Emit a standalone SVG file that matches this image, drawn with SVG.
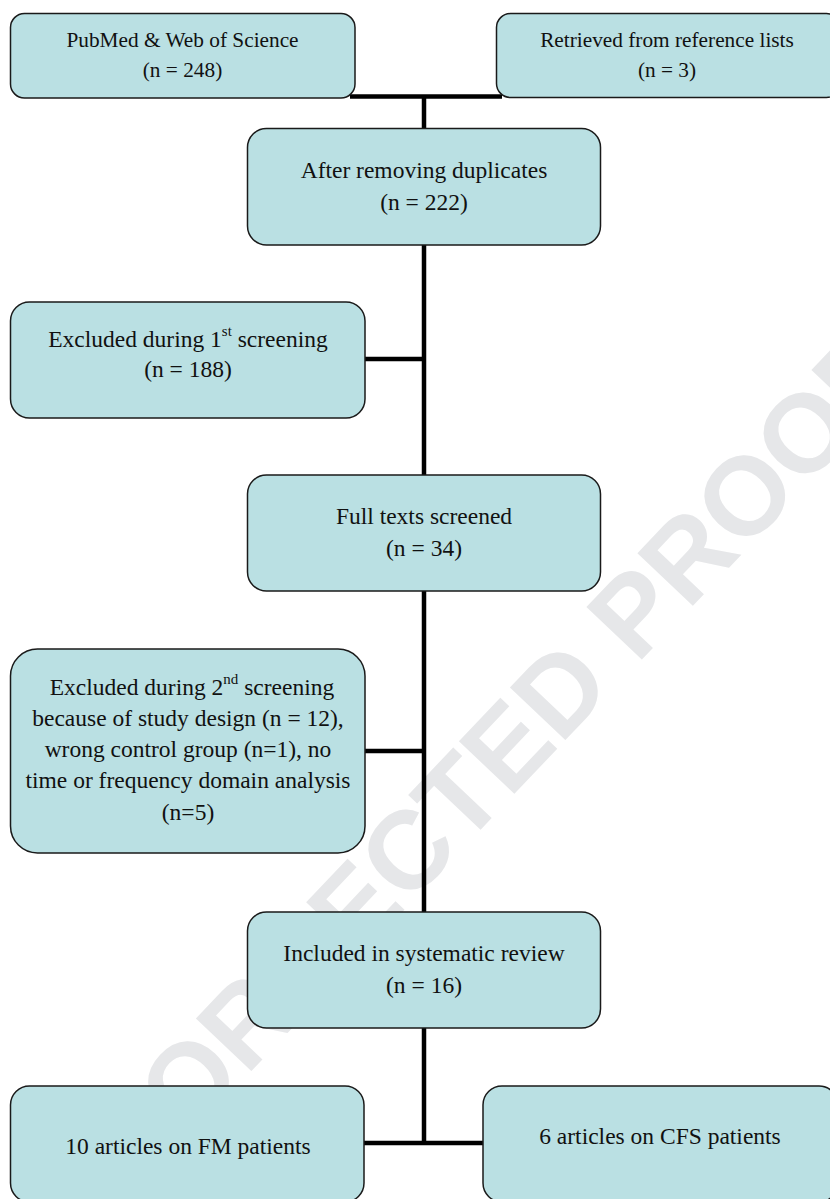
<svg xmlns="http://www.w3.org/2000/svg" width="830" height="1199" viewBox="0 0 830 1199">
  <style>
    .box { fill: #bae0e3; stroke: #1a1a1a; stroke-width: 1.5; }
    .t { font-family: "Liberation Serif", "Times New Roman", serif; font-size: 23.5px; fill: #111; text-anchor: middle; }
    .ts { font-size: 21.3px; }
    .sup { font-size: 15px; }
    .conn { stroke: #000; stroke-width: 4.5; fill: none; }
    .wm { font-family: "Liberation Sans", Arial, sans-serif; font-weight: bold; font-size: 111px; fill: #e6e7e9; text-anchor: middle; }
  </style>
  <rect x="0" y="0" width="830" height="1199" fill="#ffffff"/>
  <text class="wm" transform="translate(520,788) rotate(-46.5)" x="0" y="0">CORRECTED PROOF</text>

  <g id="connectors">
    <line class="conn" x1="350" y1="96.5" x2="502" y2="96.5"/>
    <line class="conn" x1="424" y1="96" x2="424" y2="129"/>
    <line class="conn" x1="424" y1="245" x2="424" y2="476"/>
    <line class="conn" x1="364" y1="359" x2="426" y2="359"/>
    <line class="conn" x1="424" y1="591" x2="424" y2="913"/>
    <line class="conn" x1="364" y1="751" x2="426" y2="751"/>
    <line class="conn" x1="424" y1="1028" x2="424" y2="1143"/>
    <line class="conn" x1="363" y1="1143" x2="484" y2="1143"/>
  </g>

  <g id="n1">
    <rect class="box" x="10.5" y="13.5" width="344.5" height="84.5" rx="14"/>
    <text class="t ts" x="182.5" y="47">PubMed &amp; Web of Science</text>
    <text class="t ts" x="182.5" y="77">(n = 248)</text>
  </g>
  <g id="n2">
    <rect class="box" x="496.5" y="13.5" width="344" height="84" rx="14"/>
    <text class="t ts" x="667" y="47">Retrieved from reference lists</text>
    <text class="t ts" x="667" y="77">(n = 3)</text>
  </g>
  <g id="n3">
    <rect class="box" x="247.5" y="128.5" width="353" height="116.5" rx="19"/>
    <text class="t" x="424" y="178">After removing duplicates</text>
    <text class="t" x="424" y="210">(n = 222)</text>
  </g>
  <g id="n4">
    <rect class="box" x="10.5" y="302" width="354.5" height="116" rx="19"/>
    <text class="t" x="188" y="347">Excluded during 1<tspan class="sup" dy="-11">st</tspan><tspan dy="11"> screening</tspan></text>
    <text class="t" x="188" y="377">(n = 188)</text>
  </g>
  <g id="n5">
    <rect class="box" x="247.5" y="475" width="353" height="116" rx="19"/>
    <text class="t" x="424" y="524">Full texts screened</text>
    <text class="t" x="424" y="556">(n = 34)</text>
  </g>
  <g id="n6">
    <rect class="box" x="10.5" y="649" width="354.5" height="204" rx="27"/>
    <text class="t" x="192" y="695">Excluded during 2<tspan class="sup" dy="-11">nd</tspan><tspan dy="11"> screening</tspan></text>
    <text class="t" x="188" y="726">because of study design (n = 12),</text>
    <text class="t" x="188" y="757">wrong control group (n=1), no</text>
    <text class="t" x="188" y="788">time or frequency domain analysis</text>
    <text class="t" x="188" y="820">(n=5)</text>
  </g>
  <g id="n7">
    <rect class="box" x="247.5" y="912" width="353" height="116" rx="19"/>
    <text class="t" x="424" y="961">Included in systematic review</text>
    <text class="t" x="424" y="993">(n = 16)</text>
  </g>
  <g id="n8">
    <rect class="box" x="10.5" y="1086" width="353.5" height="116" rx="19"/>
    <text class="t" x="188" y="1154">10 articles on FM patients</text>
  </g>
  <g id="n9">
    <rect class="box" x="483" y="1086" width="355" height="116" rx="19"/>
    <text class="t" x="660" y="1144">6 articles on CFS patients</text>
  </g>
</svg>
